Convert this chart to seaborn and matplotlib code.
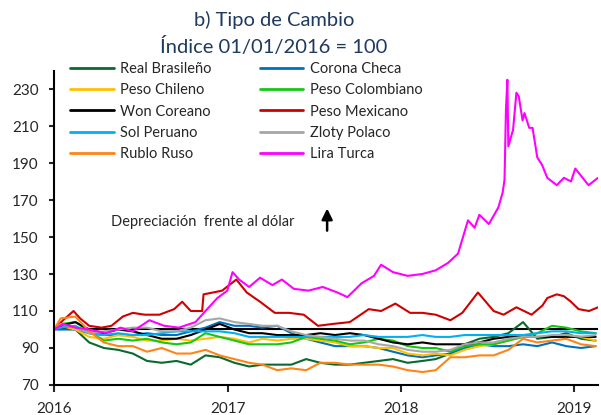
import pandas as pd
import matplotlib
matplotlib.use("Agg")
import matplotlib.pyplot as plt
import matplotlib.dates as mdates
from matplotlib.lines import Line2D
import seaborn as sns

# fechas: 01/01/2016 y luego mitad de cada mes hasta feb-2019
fechas = (["2016-01-01"]
          + [f"{a}-{m:02d}-15" for a in (2016, 2017, 2018) for m in range(1, 13)]
          + ["2019-01-15", "2019-02-15"])

# indices (01/01/2016 = 100)
real_brasileno = [100, 102, 100, 93, 90, 89, 87, 83, 82, 83, 81, 86, 85,
                  82, 80, 81, 81, 81, 84, 82, 81, 81, 82, 83, 84,
                  82, 83, 84, 87, 92, 95, 96, 98, 104, 95, 96, 98,
                  95, 94]
corona_checa = [100, 100, 100, 98, 97, 97, 97, 98, 97, 97, 99, 101, 104,
                102, 102, 101, 102, 98, 95, 93, 91, 91, 91, 90, 88,
                86, 85, 86, 87, 90, 92, 91, 91, 92, 91, 93, 91,
                90, 91]
peso_chileno = [100, 102, 100, 96, 95, 97, 96, 94, 94, 95, 94, 95, 96,
                95, 93, 95, 94, 95, 95, 94, 93, 91, 91, 90, 90,
                87, 86, 87, 86, 89, 91, 92, 94, 96, 96, 96, 97,
                96, 94]
peso_colombiano = [100, 103, 104, 99, 94, 95, 94, 95, 93, 92, 93, 98, 96,
                   94, 92, 92, 92, 93, 96, 95, 94, 92, 93, 95, 94,
                   91, 90, 90, 88, 91, 92, 92, 94, 96, 98, 102, 101,
                   99, 98]
won_coreano = [100, 102, 104, 100, 98, 100, 99, 97, 95, 95, 97, 100, 103,
               100, 98, 98, 97, 97, 97, 98, 97, 98, 97, 95, 93,
               92, 93, 92, 92, 92, 93, 95, 96, 96, 96, 96, 96,
               96, 96]
sol_peruano = [100, 101, 102, 98, 97, 98, 97, 97, 98, 99, 99, 99, 99,
               98, 96, 96, 96, 96, 96, 96, 96, 96, 97, 96, 96,
               96, 97, 96, 96, 97, 97, 97, 97, 97, 98, 99, 99,
               98, 98]
zloty_polaco = [100, 103, 101, 98, 99, 100, 101, 101, 99, 99, 101, 105, 106,
                104, 103, 102, 102, 99, 97, 96, 95, 94, 94, 92, 91,
                89, 88, 88, 89, 92, 93, 93, 95, 96, 96, 97, 97,
                96, 97]
rublo_ruso = [100, 106, 107, 99, 93, 91, 91, 88, 90, 87, 87, 89, 86,
              84, 82, 81, 78, 79, 78, 82, 82, 81, 81, 81, 80,
              78, 77, 78, 85, 85, 86, 86, 89, 95, 93, 94, 95,
              92, 91]

fechas_mxn = ["2016-01-01", "2016-01-20", "2016-02-11", "2016-02-25", "2016-03-15",
              "2016-04-10", "2016-05-01", "2016-05-25", "2016-06-15", "2016-07-10",
              "2016-08-10", "2016-09-10", "2016-09-27", "2016-10-15", "2016-11-08",
              "2016-11-11", "2016-12-01", "2016-12-20", "2017-01-19", "2017-02-10",
              "2017-03-10", "2017-04-10", "2017-05-10", "2017-06-10", "2017-07-10",
              "2017-08-10", "2017-09-15", "2017-10-25", "2017-11-20", "2017-12-20",
              "2018-01-20", "2018-02-15", "2018-03-15", "2018-04-15", "2018-05-10",
              "2018-06-12", "2018-07-15", "2018-08-05", "2018-09-01", "2018-10-03",
              "2018-10-26", "2018-11-05", "2018-11-25", "2018-12-10", "2018-12-25",
              "2019-01-10", "2019-02-01", "2019-02-20"]
peso_mexicano = [100, 105, 110, 106, 102,
                 101, 102, 107, 109, 108,
                 108, 111, 115, 110, 110,
                 119, 120, 121, 127, 120,
                 115, 109, 109, 108, 102,
                 103, 104, 111, 110, 114,
                 109, 109, 108, 105, 109,
                 120, 110, 108, 112, 108,
                 113, 117, 119, 118, 115,
                 111, 110, 112]

fechas_try = ["2016-01-01", "2016-01-20", "2016-02-15", "2016-03-15", "2016-04-20",
              "2016-05-20", "2016-06-15", "2016-07-20", "2016-08-20", "2016-09-20",
              "2016-10-25", "2016-11-15", "2016-12-10", "2016-12-31", "2017-01-11",
              "2017-01-25", "2017-02-15", "2017-03-10", "2017-04-05", "2017-04-25",
              "2017-05-20", "2017-06-20", "2017-07-20", "2017-08-20", "2017-09-10",
              "2017-10-10", "2017-11-05", "2017-11-20", "2017-12-15", "2018-01-15",
              "2018-02-15", "2018-03-15", "2018-04-10", "2018-05-01", "2018-05-22",
              "2018-06-05", "2018-06-15", "2018-07-05", "2018-07-25", "2018-08-03",
              "2018-08-07", "2018-08-10", "2018-08-13", "2018-08-15", "2018-08-25",
              "2018-09-01", "2018-09-06", "2018-09-14", "2018-09-18", "2018-09-28",
              "2018-10-05", "2018-10-15", "2018-10-25", "2018-11-05", "2018-11-25",
              "2018-12-10", "2018-12-25", "2019-01-03", "2019-01-31", "2019-02-20"]
lira_turca = [100, 103, 101, 100, 98,
              101, 99, 105, 102, 101,
              104, 110, 117, 121, 131,
              127, 123, 128, 124, 127,
              122, 121, 123, 120, 117.5,
              125, 129, 135, 131, 129,
              130, 132, 136, 141, 159,
              155, 162, 157, 166, 174,
              181, 219, 235, 199, 208,
              228, 226, 213, 217, 209,
              209, 193, 189, 182, 178,
              182, 180, 187, 178, 182]

orden = ["Real Brasileño", "Corona Checa", "Peso Chileno", "Peso Colombiano",
         "Won Coreano", "Peso Mexicano", "Sol Peruano", "Zloty Polaco",
         "Rublo Ruso", "Lira Turca"]
colores = {"Real Brasileño": "#0A6A2E", "Corona Checa": "#0070C0",
           "Peso Chileno": "#FFC000", "Peso Colombiano": "#14C814",
           "Won Coreano": "#000000", "Peso Mexicano": "#D00000",
           "Sol Peruano": "#00B0F0", "Zloty Polaco": "#A6A6A6",
           "Rublo Ruso": "#FF8418", "Lira Turca": "#FF00FF"}

mensuales = {"Real Brasileño": real_brasileno, "Corona Checa": corona_checa,
             "Peso Chileno": peso_chileno, "Peso Colombiano": peso_colombiano,
             "Won Coreano": won_coreano, "Sol Peruano": sol_peruano,
             "Zloty Polaco": zloty_polaco, "Rublo Ruso": rublo_ruso}

partes = [pd.DataFrame({"fecha": fechas, "indice": v, "moneda": k}) for k, v in mensuales.items()]
partes.append(pd.DataFrame({"fecha": fechas_mxn, "indice": peso_mexicano, "moneda": "Peso Mexicano"}))
partes.append(pd.DataFrame({"fecha": fechas_try, "indice": lira_turca, "moneda": "Lira Turca"}))
df = pd.concat(partes, ignore_index=True)
df["fecha"] = pd.to_datetime(df["fecha"])

sns.set_style("ticks")
plt.rcParams["font.family"] = ["Lato", "DejaVu Sans"]

fig = plt.figure(figsize=(6.01, 4.15), dpi=100)
ax = fig.add_axes([0.0899, 0.0723, 0.9052, 0.7578])

sns.lineplot(data=df, x="fecha", y="indice", hue="moneda", hue_order=orden,
             palette=colores, estimator=None, linewidth=1.5, legend=False, ax=ax)
ax.axhline(100, color="black", linewidth=1.5, zorder=1.5)

ax.set_xlim(pd.Timestamp("2016-01-01"), pd.Timestamp("2019-02-20"))
ax.set_ylim(70, 240)
ax.set_yticks(range(70, 231, 20))
ax.xaxis.set_major_locator(mdates.YearLocator())
ax.xaxis.set_major_formatter(mdates.DateFormatter("%Y"))
ax.set_xlabel("")
ax.set_ylabel("")
ax.spines[["top", "right"]].set_visible(False)
for lado in ["left", "bottom"]:
    ax.spines[lado].set_linewidth(1.5)
    ax.spines[lado].set_color("black")
ax.tick_params(axis="y", length=3.6, width=1.5, pad=7.5, labelsize=11)
ax.tick_params(axis="x", length=5, width=1.5, pad=7.5, labelsize=11)

# leyenda en dos columnas (orden por columnas)
orden_ley = ["Real Brasileño", "Peso Chileno", "Won Coreano", "Sol Peruano", "Rublo Ruso",
             "Corona Checa", "Peso Colombiano", "Peso Mexicano", "Zloty Polaco", "Lira Turca"]
handles = [Line2D([0], [0], color=colores[m], lw=2) for m in orden_ley]
ax.legend(handles, orden_ley, ncol=2, loc="upper left", bbox_to_anchor=(0.029, 1.027),
          frameon=False, fontsize=10.5, handlelength=3.0, handletextpad=0.45,
          columnspacing=3.3, labelspacing=0.5, borderpad=0, borderaxespad=0)

ax.text(0.105, 0.518, "Depreciación  frente al dólar", transform=ax.transAxes,
        fontsize=10.5, va="center", ha="left")
ax.annotate("", xy=(0.502, 0.57), xytext=(0.502, 0.482), xycoords="axes fraction",
            arrowprops=dict(arrowstyle="-|>", color="black", lw=1.8, mutation_scale=16))

fig.text(0.456, 0.952, "b) Tipo de Cambio", ha="center", va="center",
         fontsize=14.5, color="#1F3A5F")
fig.text(0.456, 0.887, "Índice 01/01/2016 = 100", ha="center", va="center",
         fontsize=14.5, color="#1F3A5F")

fig.savefig("out.png", dpi=100)
